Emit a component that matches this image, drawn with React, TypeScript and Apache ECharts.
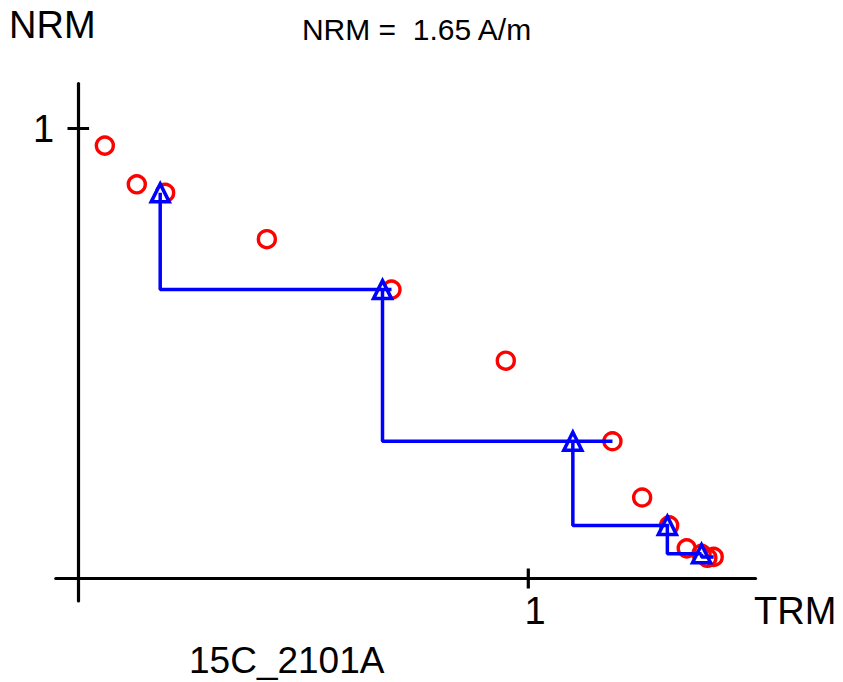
import React, { useEffect, useRef } from "react";
import * as echarts from "echarts";

// Arai plot data (fractions of NRM / TRM)
const trmValues = [0.059, 0.130, 0.193, 0.419, 0.696, 0.950, 1.187, 1.253, 1.313, 1.352, 1.385, 1.398, 1.412];
const nrmValues = [0.962, 0.876, 0.857, 0.754, 0.642, 0.484, 0.305, 0.180, 0.118, 0.067, 0.055, 0.046, 0.048];

// pTRM checks: TRM value of the check, step whose NRM it sits at, step it is tied back to
const checkTrm = [0.182, 0.676, 1.099, 1.309, 1.385];
const checkStep = [2, 4, 6, 8, 10];
const checkTarget = [4, 6, 8, 10, 12];

const xTicks = [1];
const yTicks = [1];

const title = "NRM =  1.65 A/m";
const sampleName = "15C_2101A";

const FONT = "Liberation Sans, Arial, Helvetica, sans-serif";
const BLUE = "#0000ff";
const RED = "#ff0000";

export default function App() {
  const ref = useRef<HTMLDivElement>(null);
  useEffect(() => {
    if (!ref.current) return;
    const chart = echarts.init(ref.current, null, { renderer: "svg" });

    const circles = trmValues.map((x, i) => [x, nrmValues[i]]);
    const triangles = checkTrm.map((x, i) => [x, nrmValues[checkStep[i]]]);
    const checkLines = checkTrm.map((x, i) => {
      const y0 = nrmValues[checkStep[i]];
      const t = checkTarget[i];
      return {
        type: "line",
        data: [
          [x, y0],
          [x, nrmValues[t]],
          [trmValues[t], nrmValues[t]],
        ],
        symbol: "none",
        lineStyle: { color: BLUE, width: 3.5, opacity: 1 },
        z: 5,
        silent: true,
      };
    });

    const xTickHalf = 0.022;
    const yTickHalf = 0.024;
    const tickSeries = [
      ...xTicks.map((v) => ({
        type: "line",
        data: [
          [v, -xTickHalf],
          [v, xTickHalf],
        ],
        symbol: "none",
        lineStyle: { color: "#000", width: 3.2 },
        z: 2,
        silent: true,
      })),
      ...yTicks.map((v) => ({
        type: "line",
        data: [
          [-yTickHalf, v],
          [yTickHalf, v],
        ],
        symbol: "none",
        lineStyle: { color: "#000", width: 3.2 },
        z: 2,
        silent: true,
      })),
    ];

    chart.setOption({
      animation: false,
      backgroundColor: "#fff",
      grid: { left: 55.8, top: 83.5, width: 699.75, height: 517.5 },
      xAxis: {
        type: "value",
        min: -0.05,
        max: 1.505,
        axisLine: { onZero: true, lineStyle: { color: "#000", width: 3.2 } },
        axisTick: { show: false },
        axisLabel: { show: false },
        splitLine: { show: false },
      },
      yAxis: {
        type: "value",
        min: -0.05,
        max: 1.1,
        axisLine: { onZero: true, lineStyle: { color: "#000", width: 3.2 } },
        axisTick: { show: false },
        axisLabel: { show: false },
        splitLine: { show: false },
      },
      series: [
        ...tickSeries,
        {
          type: "scatter",
          data: circles,
          symbol: "circle",
          symbolSize: 17,
          itemStyle: { color: "transparent", borderColor: RED, borderWidth: 3.4, opacity: 1 },
          z: 3,
          silent: true,
        },
        {
          type: "scatter",
          data: triangles,
          symbol: "triangle",
          symbolSize: 18,
          itemStyle: { color: "#fff", borderColor: BLUE, borderWidth: 3.5, opacity: 1 },
          z: 4,
          silent: true,
        },
        ...checkLines,
      ],
      graphic: [
        {
          type: "text",
          x: 9,
          y: 25,
          style: { text: "NRM", font: `38px ${FONT}`, fill: "#000", align: "left", verticalAlign: "middle" },
        },
        {
          type: "text",
          x: 416.5,
          y: 29.5,
          style: { text: title, font: `30px ${FONT}`, fill: "#000", align: "center", verticalAlign: "middle" },
        },
        {
          type: "text",
          x: 535,
          y: 611,
          style: { text: String(xTicks[0]), font: `38px ${FONT}`, fill: "#000", align: "center", verticalAlign: "middle" },
        },
        {
          type: "text",
          x: 43.5,
          y: 129,
          style: { text: String(yTicks[0]), font: `38px ${FONT}`, fill: "#000", align: "center", verticalAlign: "middle" },
        },
        {
          type: "text",
          x: 754,
          y: 610.5,
          style: { text: "TRM", font: `38px ${FONT}`, fill: "#000", align: "left", verticalAlign: "middle" },
        },
        {
          type: "text",
          x: 189,
          y: 660.5,
          style: { text: sampleName, font: `37px ${FONT}`, fill: "#000", align: "left", verticalAlign: "middle" },
        },
      ],
    });
    return () => chart.dispose();
  }, []);
  return (
    <div
      ref={ref}
      style={{ position: "absolute", left: 0, top: 0, width: 843, height: 682 }}
    />
  );
}
